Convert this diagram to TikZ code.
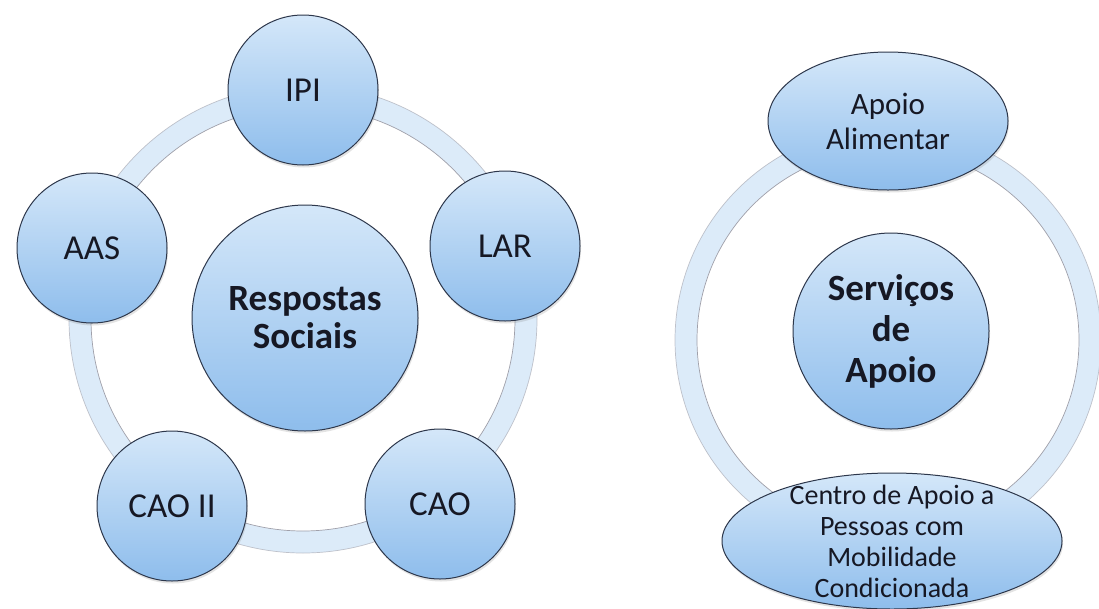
\documentclass[tikz,border=0pt]{standalone}
\usepackage{fontspec}
\setmainfont{Carlito}
\usetikzlibrary{shapes.geometric,shadows}
\definecolor{ringblue}{RGB}{220,235,249}
\definecolor{ringline}{RGB}{160,160,170}
\definecolor{nodetop}{RGB}{212,231,249}
\definecolor{nodebot}{RGB}{142,189,236}
\definecolor{nodeline}{RGB}{45,55,75}
\definecolor{txt}{RGB}{22,24,36}
\begin{document}
\begin{tikzpicture}[x=1pt,y=-1pt,
  bubble/.style={draw=nodeline, line width=1pt, top color=nodetop, bottom color=nodebot,
    text=txt, align=center, inner sep=0pt,
    drop shadow={opacity=0.22, shadow xshift=1pt, shadow yshift=-2.5pt}},
  outer/.style={bubble, circle, minimum size=150pt, font=\fontsize{35}{40}\selectfont},
  hub/.style={bubble, circle, font=\bfseries\fontsize{37}{38}\selectfont},
  oval/.style={bubble, ellipse, inner xsep=-30pt, inner ysep=-30pt},
  band/.style={ringblue, line width=22pt},
  bandedge/.style={ringline, line width=0.7pt}]
\useasboundingbox (0,0) rectangle (1099,608);
\clip (0,0) rectangle (1099,608);
\fill[white] (0,0) rectangle (1099,608);

% left ring
\draw[band] (303,319) circle[radius=223pt];
\draw[bandedge] (303,319) circle[radius=212pt];
\draw[bandedge, opacity=0.6] (303,319) circle[radius=234pt];

% right ring
\draw[band] (888,340) circle[radius=202pt];
\draw[bandedge] (888,340) circle[radius=191pt];
\draw[bandedge, opacity=0.6] (888,340) circle[radius=213pt];

% left diagram
\node[hub, minimum size=226pt] (rs) at (305,318) {Respostas\\Sociais};
\node[outer] (ipi) at (303,90) {IPI};
\node[outer] (lar) at (505,246) {LAR};
\node[outer] (cao) at (440,504) {CAO};
\node[outer] (cao2) at (172,506) {CAO II};
\node[outer] (aas) at (92,248) {AAS};

% right diagram
\node[hub, minimum size=196pt, font=\bfseries\fontsize{37}{41}\selectfont] (sa) at (891,331) {Serviços\\de\\Apoio};
\node[oval, minimum width=240pt, minimum height=138pt, font=\fontsize{31}{35}\selectfont] (aa) at (888,121) {Apoio\\Alimentar};
\node[oval, minimum width=340pt, minimum height=136pt, font=\fontsize{28}{31}\selectfont] (cap) at (892,541) {Centro de Apoio a\\Pessoas com\\Mobilidade\\Condicionada};
\end{tikzpicture}
\end{document}
